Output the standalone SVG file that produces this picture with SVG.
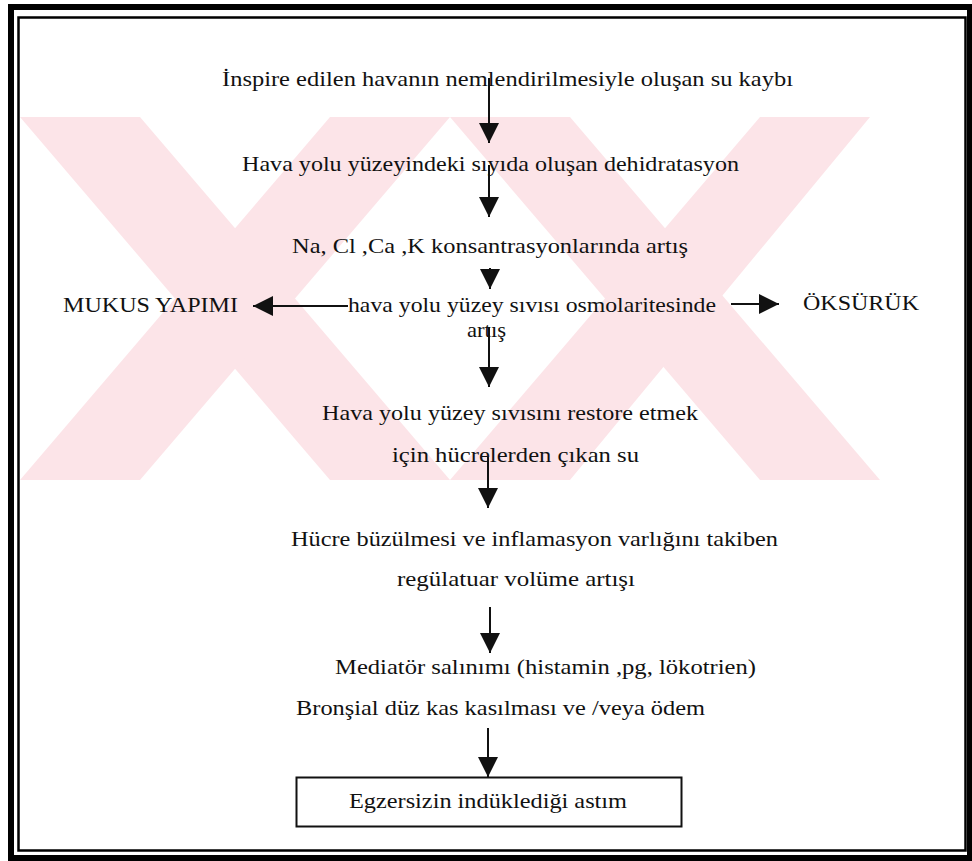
<svg xmlns="http://www.w3.org/2000/svg" width="972" height="861" viewBox="0 0 972 861">
<defs>
<style>
.t{font-family:"Liberation Serif","Times New Roman",serif;font-size:22px;fill:#111;}
.c{stroke:#111;stroke-width:2;fill:none;}
.wm{fill:#fce4e8;stroke:none;}
</style>
<marker id="ah" markerUnits="userSpaceOnUse" markerWidth="20" markerHeight="20" refX="20" refY="10" orient="auto">
<path d="M0,0 L20,10 L0,20 z" fill="#111"/>
</marker>
<clipPath id="wmclip"><rect x="20" y="117" width="900" height="363"/></clipPath>
</defs>
<rect width="972" height="861" fill="#fff"/>
<g id="watermark" clip-path="url(#wmclip)">
<polygon class="wm" points="20,117 140,117 450,480 330,480"/>
<polygon class="wm" points="330,117 450,117 140,480 20,480"/>
<polygon class="wm" points="450,117 570,117 880,480 760,480"/>
<polygon class="wm" points="760,117 870,117 570,480 450,480"/>
</g>
<g id="frame" fill="none" stroke="#000">
<rect x="11" y="7" width="959" height="851" stroke-width="6"/>
<rect x="18.5" y="17.5" width="947" height="833" stroke-width="2.5"/>
</g>
<g id="connectors">
<line class="c" x1="489" y1="78" x2="489" y2="143" marker-end="url(#ah)"/>
<line class="c" x1="489" y1="165" x2="489" y2="217" marker-end="url(#ah)"/>
<line class="c" x1="490" y1="268" x2="490" y2="289" marker-end="url(#ah)"/>
<line class="c" x1="348" y1="306" x2="253" y2="306" marker-end="url(#ah)"/>
<line class="c" x1="731" y1="304" x2="779" y2="304" marker-end="url(#ah)"/>
<line class="c" x1="489" y1="327" x2="489" y2="387" marker-end="url(#ah)"/>
<line class="c" x1="488" y1="457" x2="488" y2="508" marker-end="url(#ah)"/>
<line class="c" x1="490" y1="607" x2="490" y2="653" marker-end="url(#ah)"/>
<line class="c" x1="488" y1="728" x2="488" y2="777" marker-end="url(#ah)"/>
</g>
<g id="n1"><text class="t" x="222" y="86" textLength="571" lengthAdjust="spacingAndGlyphs">İnspire edilen havanın nemlendirilmesiyle oluşan su kaybı</text></g>
<g id="n2"><text class="t" x="242" y="171" textLength="497" lengthAdjust="spacingAndGlyphs">Hava yolu yüzeyindeki sıyıda oluşan dehidratasyon</text></g>
<g id="n3"><text class="t" x="292" y="253" textLength="396" lengthAdjust="spacingAndGlyphs">Na, Cl ,Ca ,K konsantrasyonlarında artış</text></g>
<g id="n4"><text class="t" x="63" y="312" textLength="175" lengthAdjust="spacingAndGlyphs">MUKUS YAPIMI</text></g>
<g id="n5"><text class="t" x="348" y="312" textLength="368" lengthAdjust="spacingAndGlyphs">hava yolu yüzey sıvısı osmolaritesinde</text>
<text class="t" x="467" y="337" textLength="39" lengthAdjust="spacingAndGlyphs">artış</text></g>
<g id="n6"><text class="t" x="803" y="310" textLength="116" lengthAdjust="spacingAndGlyphs">ÖKSÜRÜK</text></g>
<g id="n7"><text class="t" x="322" y="420" textLength="376" lengthAdjust="spacingAndGlyphs">Hava yolu yüzey sıvısını restore etmek</text>
<text class="t" x="392" y="462" textLength="247" lengthAdjust="spacingAndGlyphs">için hücrelerden çıkan su</text></g>
<g id="n8"><text class="t" x="291" y="546" textLength="487" lengthAdjust="spacingAndGlyphs">Hücre büzülmesi ve inflamasyon varlığını takiben</text>
<text class="t" x="397" y="586" textLength="238" lengthAdjust="spacingAndGlyphs">regülatuar volüme artışı</text></g>
<g id="n9"><text class="t" x="335" y="674" textLength="421" lengthAdjust="spacingAndGlyphs">Mediatör salınımı (histamin ,pg, lökotrien)</text></g>
<g id="n10"><text class="t" x="296" y="715" textLength="409" lengthAdjust="spacingAndGlyphs">Bronşial düz kas kasılması ve /veya ödem</text></g>
<g id="n11"><rect x="296.5" y="777.5" width="385" height="49" fill="#fff" stroke="#111" stroke-width="2"/>
<text class="t" x="349" y="808" textLength="278" lengthAdjust="spacingAndGlyphs">Egzersizin indüklediği astım</text></g>
</svg>
